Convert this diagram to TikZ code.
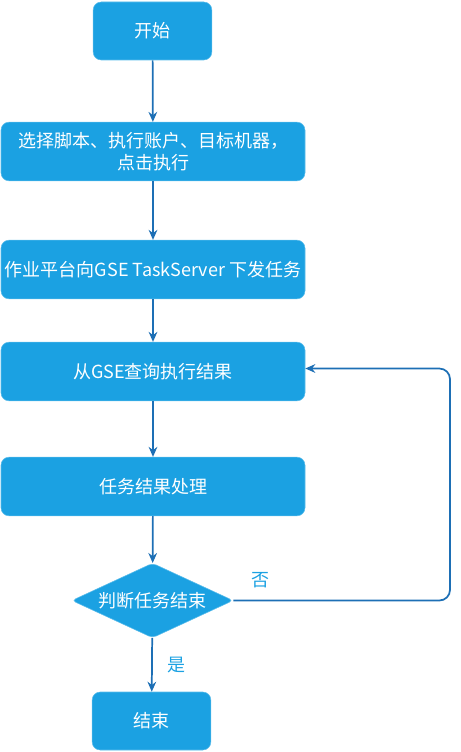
\documentclass[tikz,border=0pt]{standalone}
\usepackage{fontspec}
\setmainfont{Noto Sans CJK SC}
\usepackage{xcolor}
\usetikzlibrary{positioning,shapes,calc,arrows.meta}
\definecolor{bleuboite}{HTML}{1BA1E2}
\definecolor{bordboite}{HTML}{5CBDEB}
\definecolor{bleufleche}{HTML}{1D6FB5}

\begin{document}
\begin{tikzpicture}[x=0.75pt, y=-0.75pt, font=\fontsize{13.5pt}{16.5pt}\selectfont,
  etape/.style={draw=bordboite, fill=bleuboite, text=white, rounded corners=6pt,
    minimum width=228pt, minimum height=44pt, align=center, inner sep=2pt},
  borne/.style={etape, minimum width=89pt, minimum height=43.5pt},
  choix/.style={diamond, aspect=2.15, draw=bordboite, fill=bleuboite, text=white,
    rounded corners=3pt, minimum width=121pt, minimum height=56pt, inner sep=0pt},
  fleche/.style={-{Stealth[length=7.5pt, width=6.5pt]}, draw=bleufleche, line width=1.3pt},
  etiq/.style={text=bleuboite}]

  % === Cadre ===
  \useasboundingbox (0,0) rectangle (460,752);

  % === Etapes ===
  \node[borne] (debut) at (152.5,31) {开始};
  \node[etape] (choisir) at (153,151.5) {选择脚本、执行账户、目标机器，\\点击执行};
  \node[etape] (envoi) at (153,269.5) {作业平台向GSE TaskServer 下发任务};
  \node[etape] (requete) at (153,371.5) {从GSE查询执行结果};
  \node[etape] (traite) at (153,486.5) {任务结果处理};
  \node[choix] (fini) at (152.5,600.5) {判断任务结束};
  \node[borne] (fin) at (151.5,721) {结束};

  \coordinate (coin) at (450,0);

  % === Fleches ===
  \draw[fleche] (debut) -- (choisir);
  \draw[fleche] (choisir) -- (envoi);
  \draw[fleche] (envoi) -- (requete);
  \draw[fleche] (requete) -- (traite);
  \draw[fleche] (traite) -- (fini);
  \draw[fleche] (fini) -- (fin) node[midway, right=8pt, etiq] {是};

  % boucle de retour
  \draw[fleche, rounded corners=8pt] (fini.east) -- (fini.east -| coin)
    -- ($(requete.east -| coin)+(0,-3)$) -- ($(requete.east)+(0,-3)$);
  \node[etiq] (non) at (260,580) {否};

\end{tikzpicture}
\end{document}
